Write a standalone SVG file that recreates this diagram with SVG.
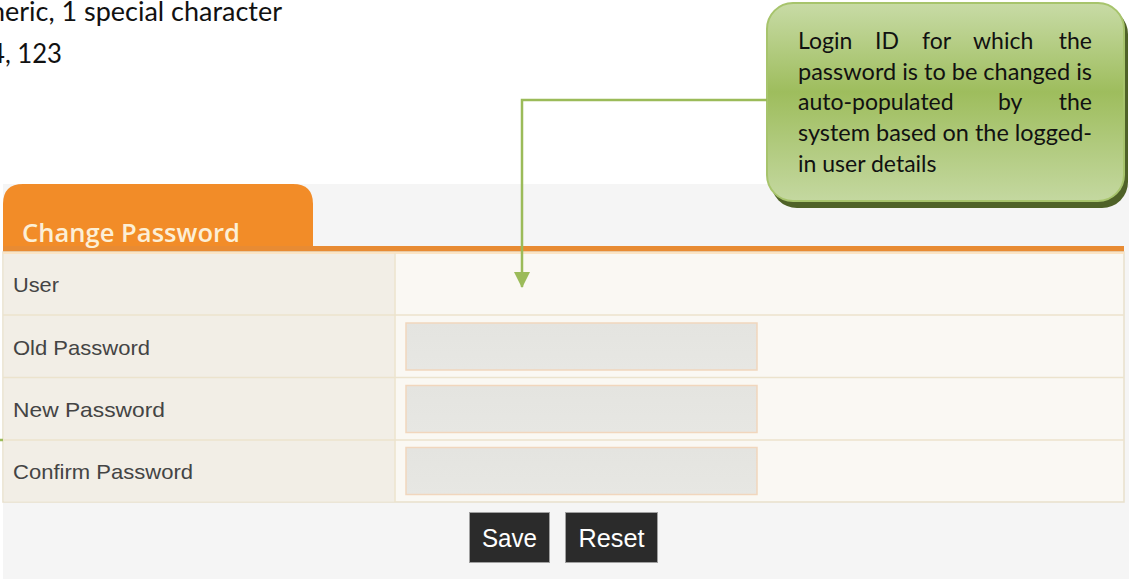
<svg xmlns="http://www.w3.org/2000/svg" width="1129" height="579" viewBox="0 0 1129 579">
  <defs>
    <linearGradient id="calloutFill" x1="0" y1="0" x2="0" y2="1">
      <stop offset="0" stop-color="#c8dba6"/>
      <stop offset="0.45" stop-color="#9ebd5d"/>
      <stop offset="1" stop-color="#c4d8a0"/>
    </linearGradient>
    <linearGradient id="fieldFill" x1="0" y1="0" x2="0" y2="1">
      <stop offset="0" stop-color="#e4e4e0"/>
      <stop offset="1" stop-color="#e7e7e3"/>
    </linearGradient>
    <marker id="arrow" viewBox="0 0 16 16" refX="15" refY="8" markerWidth="16" markerHeight="16" markerUnits="userSpaceOnUse" orient="auto">
      <path d="M0,0 L16,8 L0,16 Z" fill="#9bbb59"/>
    </marker>
    <style>
      .note { font-family: Lato, "Open Sans", sans-serif; font-size: 23px; fill: #111; }
      .doc { font-family: Lato, "Open Sans", sans-serif; font-size: 27px; fill: #111; }
      .label { font-family: "Liberation Sans", Arial, sans-serif; font-size: 21px; fill: #444; }
      .btn rect { fill: #2b2b2b; stroke: #a0a0a0; stroke-width: 1; }
      .btn text { font-family: "Liberation Sans", Arial, sans-serif; font-size: 26px; fill: #ffffff; text-anchor: middle; }
      .field { fill: url(#fieldFill); stroke: #f1d6bd; stroke-width: 1.5; }
      .rowline { stroke: #ece3cd; stroke-width: 1.5; }
      .wire { fill: none; stroke: #9bbb59; stroke-width: 2.5; }
    </style>
  </defs>

  <!-- page background -->
  <rect x="0" y="0" width="1129" height="579" fill="#ffffff"/>

  <!-- leftover document text at the top -->
  <g id="doc-text">
    <text class="doc" x="-10" y="21" textLength="292" lengthAdjust="spacingAndGlyphs">neric, 1 special character</text>
    <text class="doc" x="-10" y="63" textLength="72" lengthAdjust="spacingAndGlyphs">4, 123</text>
  </g>

  <!-- form panel -->
  <g id="form">
    <rect x="3" y="184" width="1126" height="395" fill="#f5f5f5"/>

    <!-- header tab -->
    <path d="M3,252 L3,204 Q3,184 23,184 L293,184 Q313,184 313,204 L313,252 Z" fill="#f28c28"/>
    <rect x="3" y="246" width="1121" height="6" fill="#e88b33"/>
    <text x="22" y="242" font-family="'Open Sans', Lato, sans-serif" font-weight="600" font-size="26" fill="#fcefd6" textLength="218" lengthAdjust="spacingAndGlyphs">Change Password</text>

    <!-- table body -->
    <rect x="3" y="252" width="1121" height="250" fill="#faf8f3" stroke="#e8e0cb" stroke-width="1.5"/>
    <rect x="3.75" y="252.5" width="391" height="249" fill="#f2eee6"/>
    <rect x="3" y="252" width="1121" height="2" fill="#fbe4c4"/>
    <line class="rowline" x1="395" y1="253" x2="395" y2="502"/>
    <line class="rowline" x1="3" y1="315" x2="1124" y2="315"/>
    <line class="rowline" x1="3" y1="377.5" x2="1124" y2="377.5"/>
    <line class="rowline" x1="3" y1="440" x2="1124" y2="440"/>
  </g>

  <g id="row-user">
    <text class="label" x="13" y="292" textLength="46" lengthAdjust="spacingAndGlyphs">User</text>
  </g>
  <g id="row-old">
    <text class="label" x="13" y="355" textLength="137" lengthAdjust="spacingAndGlyphs">Old Password</text>
    <rect class="field" x="406" y="323" width="351" height="47"/>
  </g>
  <g id="row-new">
    <text class="label" x="13" y="417" textLength="152" lengthAdjust="spacingAndGlyphs">New Password</text>
    <rect class="field" x="406" y="385.5" width="351" height="47"/>
  </g>
  <g id="row-confirm">
    <text class="label" x="13" y="479" textLength="180" lengthAdjust="spacingAndGlyphs">Confirm Password</text>
    <rect class="field" x="406" y="447.5" width="351" height="47"/>
  </g>

  <g id="btn-save" class="btn">
    <rect x="469.5" y="512.5" width="80" height="50"/>
    <text x="509.5" y="547" textLength="55" lengthAdjust="spacingAndGlyphs">Save</text>
  </g>
  <g id="btn-reset" class="btn">
    <rect x="565.5" y="512.5" width="92" height="50"/>
    <text x="611.5" y="547" textLength="66" lengthAdjust="spacingAndGlyphs">Reset</text>
  </g>

  <!-- callout -->
  <g id="callout">
    <rect x="771" y="8" width="357" height="200" rx="26" fill="#4f6228"/>
    <rect x="767" y="3" width="357" height="198" rx="26" fill="url(#calloutFill)" stroke="#a7c46c" stroke-width="2"/>
    <text class="note" y="49">
      <tspan x="798">Login</tspan>
      <tspan x="875">ID</tspan>
      <tspan x="922">for</tspan>
      <tspan x="973">which</tspan>
      <tspan x="1092" text-anchor="end">the</tspan>
    </text>
    <text class="note" x="798" y="80" textLength="294" lengthAdjust="spacingAndGlyphs">password is to be changed is</text>
    <text class="note" y="110">
      <tspan x="798">auto-populated</tspan>
      <tspan x="998">by</tspan>
      <tspan x="1092" text-anchor="end">the</tspan>
    </text>
    <text class="note" x="798" y="141" textLength="294" lengthAdjust="spacingAndGlyphs">system based on the logged-</text>
    <text class="note" x="798" y="172">in user details</text>
  </g>

  <!-- connectors -->
  <g id="connectors">
    <path class="wire" d="M767,100 L522,100 L522,287" marker-end="url(#arrow)"/>
    <line class="wire" x1="0" y1="440" x2="3" y2="440"/>
  </g>
</svg>
